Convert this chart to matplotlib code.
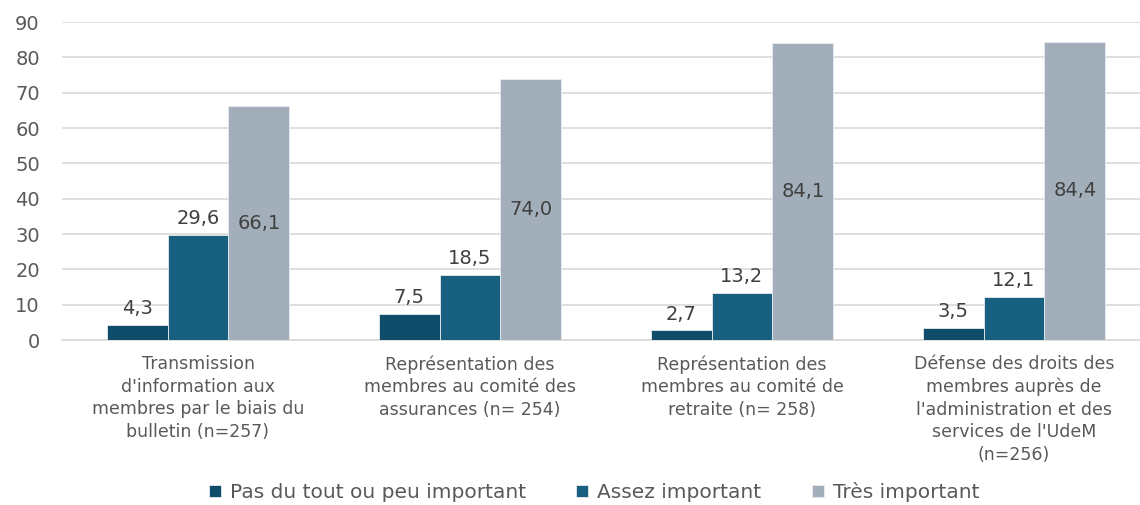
import numpy as np
import matplotlib.pyplot as plt

categories = [
    "Transmission\nd'information aux\nmembres par le biais du\nbulletin (n=257)",
    "Représentation des\nmembres au comité des\nassurances (n= 254)",
    "Représentation des\nmembres au comité de\nretraite (n= 258)",
    "Défense des droits des\nmembres auprès de\nl'administration et des\nservices de l'UdeM\n(n=256)",
]
peu_important = [4.3, 7.5, 2.7, 3.5]
assez_important = [29.6, 18.5, 13.2, 12.1]
tres_important = [66.1, 74.0, 84.1, 84.4]
series_names = ["Pas du tout ou peu important", "Assez important", "Très important"]
yticks = [0, 10, 20, 30, 40, 50, 60, 70, 80, 90]

plt.rcParams['font.family'] = ['DejaVu Sans']
txt = '#595959'

fig = plt.figure(figsize=(11.4, 5.05), dpi=100)
ax = fig.add_axes([62 / 1140, 1 - 340 / 505, 1088 / 1140, 318 / 505])

x = np.arange(len(categories))
w = 0.224
colors = ['#0F4C6A', '#18607F', '#A2AEB9']
all_series = [peu_important, assez_important, tres_important]

for i, (vals, col, name) in enumerate(zip(all_series, colors, series_names)):
    bars = ax.bar(x + (i - 1) * w, vals, w, color=col, label=name,
                  edgecolor='#E8ECEF', linewidth=0.6, zorder=3)
    for b, v in zip(bars, vals):
        lab = f"{v:.1f}".replace('.', ',')
        cx = b.get_x() + b.get_width() / 2
        if i == 2:
            ax.text(cx, v / 2, lab, ha='center', va='center', fontsize=14, color='#404040', zorder=4)
        else:
            ax.annotate(lab, (cx, v), xytext=(0, 5), textcoords='offset points',
                        ha='center', va='bottom', fontsize=14, color='#404040')

ax.set_xlim(-0.5, 3.5)
ax.set_ylim(0, 90)
ax.set_yticks(yticks)
ax.set_xticks(x)
ax.set_xticklabels(categories, fontsize=12.5, color=txt, linespacing=1.32)
ax.tick_params(axis='y', labelsize=14, colors=txt, length=0, pad=16)
ax.tick_params(axis='x', length=0, pad=11)
ax.grid(axis='y', color='#D9D9D9', linewidth=1.2, zorder=0)
ax.set_axisbelow(True)
for s in ['top', 'right', 'left']:
    ax.spines[s].set_visible(False)
ax.spines['bottom'].set_color('#D9D9D9')
ax.spines['bottom'].set_linewidth(1.2)

ax.legend(loc='center', bbox_to_anchor=(532 / 1088, -152 / 318), ncol=3, frameon=False,
          fontsize=14.5, labelcolor=txt, handlelength=0.6, handleheight=0.6,
          handletextpad=0.45, columnspacing=2.5, borderpad=0)

fig.savefig('out.png', dpi=100)
